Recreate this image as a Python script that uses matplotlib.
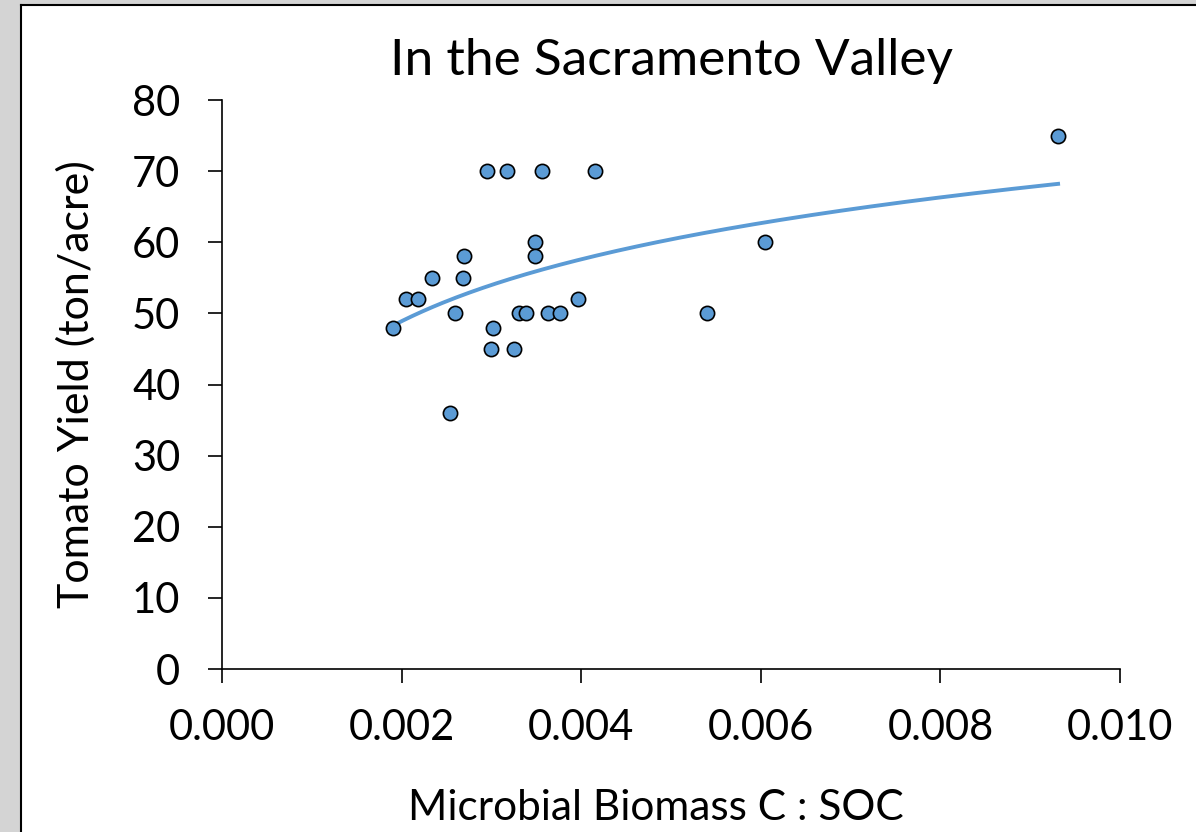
import matplotlib
matplotlib.use('Agg')
import matplotlib.pyplot as plt
from matplotlib.patches import Rectangle
import numpy as np

plt.rcParams['font.family'] = ['Lato', 'DejaVu Sans']

# 数据
mbc_soc = np.array([0.00190, 0.00205, 0.00218, 0.00234, 0.00260, 0.00254,
                    0.00268, 0.00270, 0.00295, 0.00300, 0.00302, 0.00317,
                    0.00325, 0.00331, 0.00339, 0.00349, 0.00349, 0.00356,
                    0.00363, 0.00376, 0.00396, 0.00415, 0.00540, 0.00605,
                    0.00931])
tomato_yield = np.array([48, 52, 52, 55, 50, 36,
                         55, 58, 70, 45, 48, 70,
                         45, 50, 50, 60, 58, 70,
                         50, 50, 52, 70, 50, 60,
                         75])
x_ticks = [0.000, 0.002, 0.004, 0.006, 0.008, 0.010]
y_ticks = [0, 10, 20, 30, 40, 50, 60, 70, 80]

blue = '#5B9BD5'

# 对数趋势线
a, b = np.polyfit(np.log(mbc_soc), tomato_yield, 1)
xs = np.linspace(mbc_soc.min(), mbc_soc.max(), 200)

fig = plt.figure(figsize=(11.96, 8.32), dpi=100)
ax = fig.add_axes([0.1856, 0.1959, 0.7509, 0.6839])

ax.plot(xs, a * np.log(xs) + b, color=blue, lw=2.8, zorder=2)
ax.scatter(mbc_soc, tomato_yield, s=105, color=blue, edgecolor='black',
           linewidth=1.2, zorder=3)

ax.set_xlim(0, 0.010)
ax.set_ylim(0, 80)
ax.set_xticks(x_ticks)
ax.set_xticklabels(['%.3f' % v for v in x_ticks])
ax.set_yticks(y_ticks)
ax.spines['top'].set_visible(False)
ax.spines['right'].set_visible(False)
for s in ['left', 'bottom']:
    ax.spines[s].set_linewidth(1.2)
ax.tick_params(direction='out', length=10, width=1.2, labelsize=30)
ax.tick_params(axis='x', pad=19)
ax.tick_params(axis='y', pad=20)

ax.set_title('In the Sacramento Valley', fontsize=37, pad=18)
ax.set_xlabel('Microbial Biomass C : SOC', fontsize=30.5, labelpad=30)
ax.xaxis.label.set_x(0.483)
ax.set_ylabel('Tomato Yield (ton/acre)', fontsize=31, labelpad=26)

# 截图边框
fig.patches.append(Rectangle((0, 0), 0.0167, 1, transform=fig.transFigure,
                             color='#d4d4d4', zorder=0))
fig.patches.append(Rectangle((0, 0.9952), 1, 0.0048, transform=fig.transFigure,
                             color='#d4d4d4', zorder=0))
fig.add_artist(plt.Line2D([0.0175, 0.0175], [0, 0.994], color='black', lw=1.5,
                          transform=fig.transFigure))
fig.add_artist(plt.Line2D([0.0175, 1], [0.994, 0.994], color='black', lw=1.5,
                          transform=fig.transFigure))

fig.savefig('out.png', dpi=100)
